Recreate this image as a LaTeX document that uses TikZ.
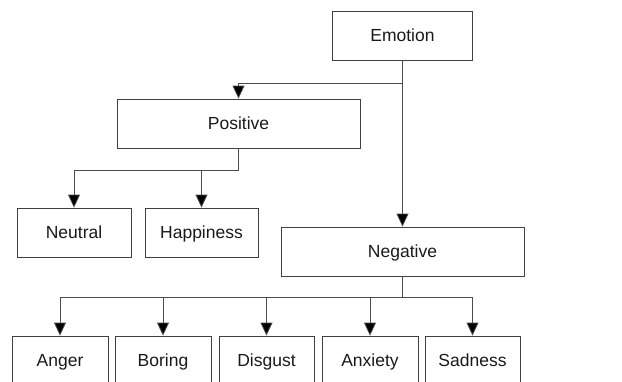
\documentclass[tikz,border=0pt]{standalone}
\usepackage{fontspec}
\setmainfont{Liberation Sans}
\usetikzlibrary{arrows.meta}
\begin{document}
\begin{tikzpicture}[x=1pt,y=-1pt,
  box/.style={draw=black!75,line width=0.8pt,minimum height=49pt,inner sep=0pt,
    text height=14pt,text depth=2pt,
    font=\fontsize{17.5}{21}\selectfont,text=black!90},
  link/.style={draw=black!70,line width=0.8pt},
  arr/.style={link,-{Triangle[length=13pt,width=12pt,fill=black]}}]
\clip (0,0) rectangle (622,381);
\node[box,minimum width=140pt] (emo) at (402.5,35.5) {Emotion};
\node[box,minimum width=243pt] (pos) at (238.5,123.5) {Positive};
\node[box,minimum width=114pt] (neu) at (74,232.5) {Neutral};
\node[box,minimum width=113pt] (hap) at (201.5,232.5) {Happiness};
\node[box,minimum width=243pt] (neg) at (402.5,251.5) {Negative};
\node[box,minimum width=96pt] (ang) at (60,360.5) {Anger};
\node[box,minimum width=96pt] (bor) at (163,360.5) {Boring};
\node[box,minimum width=95pt] (dis) at (266.5,360.5) {Disgust};
\node[box,minimum width=96pt] (anx) at (370,360.5) {Anxiety};
\node[box,minimum width=95pt] (sad) at (472.5,360.5) {Sadness};
\coordinate (j1) at (402.5,83);
\coordinate (j2) at (238.5,170);
\coordinate (j3) at (402.5,297);
\draw[arr] (emo.south) -- (neg.north);
\draw[arr] (j1) -| (pos.north);
\draw[link] (pos.south) -- (j2);
\draw[arr] (j2) -| (neu.north);
\draw[arr] (j2) -| (hap.north);
\draw[link] (neg.south) -- (j3);
\foreach \n in {ang,bor,dis,anx,sad}{\draw[arr] (j3) -| (\n.north);}
\end{tikzpicture}
\end{document}
